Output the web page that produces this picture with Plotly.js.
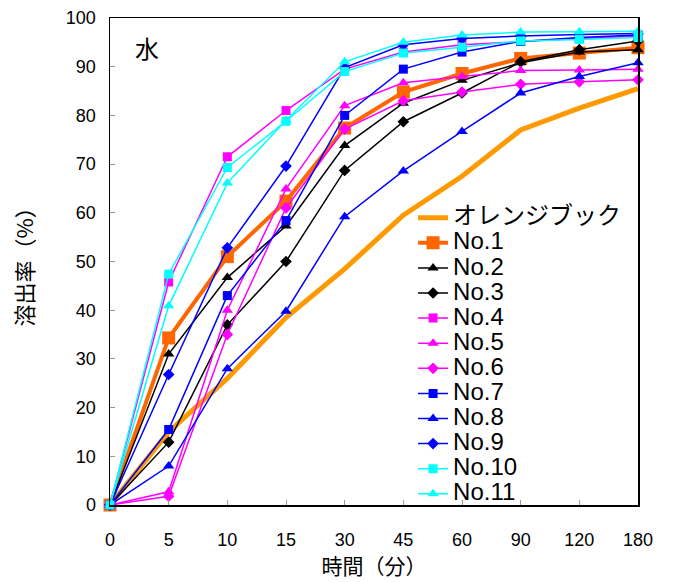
<!DOCTYPE html>
<html>
<head>
<meta charset="utf-8">
<script src="https://cdn.plot.ly/plotly-3.0.1.min.js"></script>
<style>html,body{margin:0;padding:0;background:#fff}#chart{width:673px;height:582px}</style>
</head>
<body>
<div id="chart"></div>
<script>
// Time categories (minutes)
const categories = ['0','5','10','15','30','45','60','90','120','180'];

// Series names
const seriesNames = ['オレンジブック','No.1','No.2','No.3','No.4','No.5','No.6','No.7','No.8','No.9','No.10','No.11'];

// Dissolution rate (%) values
const orangeBook = [0, 15, 26, 38.5, 48.5, 59.5, 67.5, 77, 81.5, 85.5];
const no1  = [0, 34.3, 51, 62.4, 77.4, 84.8, 88.6, 91.7, 92.8, 93.9];
const no2  = [0, 31, 46.7, 57.3, 73.8, 82.5, 87.2, 90.8, 93, 93.5];
const no3  = [0, 12.9, 37, 50, 68.7, 78.7, 84.6, 91, 93.5, 95.3];
const no4  = [0, 45.8, 71.5, 81, 89.5, 93, 94.5, 95.2, 95.8, 96.3];
const no5  = [0, 2.7, 40, 64.9, 82, 86.7, 88, 89.2, 89.3, 89.5];
const no6  = [0, 1.8, 35, 61, 77.2, 83, 84.8, 86.4, 86.9, 87.3];
const no7  = [0, 15.5, 43, 58.4, 80, 89.5, 93, 95.2, 96, 96.5];
const no8  = [0, 8, 28, 39.8, 59.2, 68.6, 76.7, 84.6, 88, 90.8];
const no9  = [0, 26.8, 52.8, 69.6, 89.8, 94.5, 95.8, 96.3, 96.6, 96.8];
const no10 = [0, 47.4, 69.3, 78.8, 89, 92.8, 94, 95.3, 95.6, 96];
const no11 = [0, 40.9, 66.1, 79, 91, 95, 96.5, 97.1, 97.2, 97.3];

const seriesValues = [orangeBook, no1, no2, no3, no4, no5, no6, no7, no8, no9, no10, no11];

const styles = [
  {color:'#FF9900', width:5, symbol:null, size:0},
  {color:'#FF6600', width:4, symbol:'square', size:13},
  {color:'#000000', width:1.5, symbol:'triangle-up', size:10},
  {color:'#000000', width:1.5, symbol:'diamond', size:9},
  {color:'#FF00FF', width:1.5, symbol:'square', size:9},
  {color:'#FF00FF', width:1.5, symbol:'triangle-up', size:10},
  {color:'#FF00FF', width:1.5, symbol:'diamond', size:9},
  {color:'#0000FF', width:1.5, symbol:'square', size:9},
  {color:'#0000FF', width:1.5, symbol:'triangle-up', size:10},
  {color:'#0000FF', width:1.5, symbol:'diamond', size:9},
  {color:'#00FFFF', width:1.5, symbol:'square', size:9},
  {color:'#00FFFF', width:1.5, symbol:'triangle-up', size:10}
];

const traces = seriesValues.map((vals, i) => {
  const s = styles[i];
  const t = {
    type:'scatter',
    x: categories,
    y: vals,
    name: '<span style="font-size:24px">' + seriesNames[i] + '</span>',
    mode: s.symbol ? 'lines+markers' : 'lines',
    line: {color:s.color, width:s.width},
    cliponaxis: false
  };
  if (s.symbol) t.marker = {symbol:s.symbol, size:s.size, color:s.color};
  return t;
});

const tickFont = {family:'Liberation Sans, Arial, sans-serif', size:18, color:'#000'};
const cjkFont = {family:'Noto Sans CJK JP, sans-serif', size:21, color:'#000'};

const layout = {
  width:673, height:582,
  margin:{l:110, r:35, t:18, b:77},
  paper_bgcolor:'#fff', plot_bgcolor:'#fff',
  showlegend:true,
  legend:{
    x:0.574, y:0.626, xanchor:'left', yanchor:'top',
    bgcolor:'rgba(0,0,0,0)', borderwidth:0,
    font:{family:'Liberation Sans, Noto Sans CJK JP, sans-serif', size:17, color:'#000'},
    tracegroupgap:0
  },
  xaxis:{
    type:'category', range:[0,9],
    showline:true, mirror:true, linecolor:'#000', linewidth:1.5,
    ticks:'inside', ticklen:5, tickcolor:'#999', tickwidth:1,
    tickfont:tickFont, ticklabelstandoff:18,
    showgrid:false, zeroline:false,
    title:{text:'時間（分）', font:cjkFont, standoff:8}
  },
  yaxis:{
    range:[0,100], dtick:10,
    showline:true, mirror:true, linecolor:'#000', linewidth:1.5,
    ticks:'inside', ticklen:5, tickcolor:'#999', tickwidth:1,
    tickfont:tickFont, ticklabelstandoff:9,
    showgrid:false, zeroline:false,
    title:{text:'溶出率（%）', font:{family:'Noto Sans CJK JP, sans-serif', size:22, color:'#000'}, standoff:26}
  },
  annotations:[{
    text:'水', xref:'paper', yref:'paper', x:0.07, y:0.94,
    xanchor:'center', yanchor:'middle', showarrow:false,
    font:{family:'Noto Sans CJK JP, sans-serif', size:24, color:'#000'}
  }]
};

Plotly.newPlot('chart', traces, layout, {displayModeBar:false, staticPlot:true});
</script>
</body>
</html>
